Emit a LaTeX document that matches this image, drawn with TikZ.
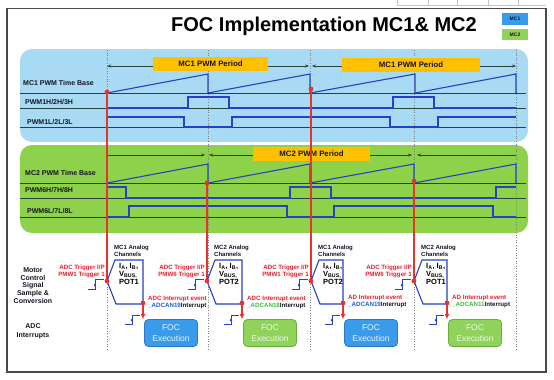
\documentclass[tikz,border=0pt]{standalone}
\usepackage{fontspec}
\setmainfont{Liberation Sans}
\usetikzlibrary{arrows.meta}
\definecolor{panelblue}{HTML}{A8DAF3}
\definecolor{panelgreen}{HTML}{8ED14B}
\definecolor{gold}{HTML}{FFC000}
\definecolor{sigblue}{HTML}{2542C4}
\definecolor{basec}{HTML}{27433A}
\definecolor{trigred}{HTML}{E8322C}
\definecolor{lblred}{HTML}{E8202E}
\definecolor{focblue}{HTML}{3A9BEA}
\definecolor{focblueb}{HTML}{2A78C8}
\definecolor{focgreen}{HTML}{8FD35A}
\definecolor{focgreenb}{HTML}{6AAE3E}
\definecolor{codeblue}{HTML}{1E5FE0}
\definecolor{codegreen}{HTML}{3DBE3D}
\definecolor{framec}{HTML}{4A4A4A}
\definecolor{gridc}{HTML}{C4C4C4}
\definecolor{txt}{HTML}{151525}
\newcommand\adcgrp[9]{%
 \begin{scope}[shift={(#1,0)}]
  \node[chlbl] (ch#1) at (7,245) {#3 Analog\\Channels};
  \node[trglbl] (tl#1) at (-2,271.5) {ADC Trigger I/P\\#4};
  \draw[stepsym] (-19,289) -- (-12,289) -- (-12,279) -- (-3,279);
  \draw[steparr] (-12,289) -- (-12,283);
  \draw[hold] (0,281) -- (8,260) -- (#2,260) -- (#2,304) -- (9,304) -- cycle;
  \node[holdtxt] (h#1) at (12,263) {I\textsubscript{A}, I\textsubscript{B},\\V\textsubscript{BUS,}\\#5};
  \node[#9] (f#1) at (#2+28,333) {FOC\\Execution};
  \coordinate (ev#1) at (#2,303);
  \draw[redarrow] (ev#1) -- (f#1.north -| ev#1);
  \fill[trigred] (ev#1) circle (2.4);
  \fill[trigred] (0,281) circle (2.4);
  \node[evlbl] (e#1) at (#2+5,302) {#6\\\textcolor{#8}{\_ADCAN#7}\textcolor{txt}{Interrupt}};
  \draw[stepsym] (#2-18,324) -- (#2-11,324) -- (#2-11,315) -- (#2-3,315);
  \draw[steparr] (#2-11,324) -- (#2-11,318);
 \end{scope}}
\begin{document}
\begin{tikzpicture}[x=1pt,y=-1pt,
  sig/.style={sigblue, line width=1.1pt, line join=miter},
  baseln/.style={basec, line width=0.7pt},
  dots/.style={gray, dotted, line width=0.6pt},
  redln/.style={trigred, line width=1.4pt},
  dim/.style={basec, line width=0.7pt, -{Stealth[length=4pt,width=3pt]}},
  periodbox/.style={fill=gold, inner sep=0, minimum height=14pt, font=\bfseries\fontsize{7.8}{9}\selectfont, text=txt},
  plbl/.style={anchor=west, inner sep=0, font=\bfseries\fontsize{7}{8}\selectfont, text=txt},
  sidelbl/.style={align=center, inner sep=0, font=\bfseries\fontsize{7}{7.8}\selectfont, text=txt},
  chlbl/.style={anchor=north west, align=left, inner sep=0, font=\bfseries\fontsize{6}{7}\selectfont, text=txt},
  trglbl/.style={anchor=east, align=right, inner sep=0, font=\bfseries\fontsize{6.2}{6.8}\selectfont, text=lblred},
  evlbl/.style={anchor=west, align=left, inner sep=0, font=\bfseries\fontsize{6.2}{7}\selectfont, text=lblred},
  holdtxt/.style={anchor=north west, align=left, inner sep=0, font=\bfseries\fontsize{7.5}{8.2}\selectfont, text=black},
  hold/.style={sigblue, line width=1.1pt, line join=miter},
  stepsym/.style={sigblue, line width=0.9pt},
  steparr/.style={sigblue, line width=0.9pt, -{Latex[length=3pt,width=3pt]}},
  redarrow/.style={trigred, line width=2pt, -{Latex[length=5pt,width=5pt]}},
  focmc1/.style={fill=focblue, draw=focblueb, line width=0.8pt, rounded corners=4pt, minimum width=53pt, minimum height=27pt, align=center, inner sep=0, font=\fontsize{8.5}{10.5}\selectfont, text=white!88!focblue},
  focmc2/.style={fill=focgreen, draw=focgreenb, line width=0.8pt, rounded corners=4pt, minimum width=53pt, minimum height=27pt, align=center, inner sep=0, font=\fontsize{8.5}{10.5}\selectfont, text=white!85!focgreen},
  legendbox/.style={minimum width=26pt, minimum height=11.5pt, inner sep=0, font=\bfseries\fontsize{5}{6}\selectfont, text=txt}
]
\useasboundingbox (0,0) rectangle (554,380);
\fill[white] (0,0) rectangle (554,380);
% faint grid top right
\draw[gridc, line width=0.5pt] (397,5) -- (546,5);
\foreach \gx in {397,428,457,488,518} \draw[gridc, line width=0.5pt] (\gx,0) -- (\gx,5);
% frame
\draw[framec, line width=1.5pt] (7,8.5) rectangle (546,372);
% title
\node[inner sep=0, font=\bfseries\fontsize{20}{24}\selectfont, text=black] (title) at (324,26.5) {FOC Implementation MC1\& MC2};
\node[legendbox, fill=focblue] (lg1) at (515,19) {MC1};
\node[legendbox, fill=focgreen] (lg2) at (515,34.5) {MC2};
% panels
\fill[panelblue, rounded corners=12pt] (20,49) rectangle (528,142);
\fill[panelgreen, rounded corners=12pt] (20,145) rectangle (528,233);
% dotted time lines
\foreach \dx in {107,208,310,414,516} \draw[dots] (\dx,50) -- (\dx,350);
% baselines
\foreach \by in {93,108,127,183,198,217} \draw[baseln] (20,\by) -- (526,\by);
% MC1 signals
\draw[sig] (107,93) -- (208,74) -- (208,93) -- (310,74) -- (310,93) -- (415,74) -- (415,93) -- (516,74) -- (516,93);
\draw[sig] (107,108) -- (188,108) -- (188,97) -- (229,97) -- (229,108) -- (393,108) -- (393,97) -- (434,97) -- (434,108) -- (516,108);
\draw[sig] (107,117) -- (184,117) -- (184,127) -- (232,127) -- (232,117) -- (390,117) -- (390,127) -- (438,127) -- (438,117) -- (516,117);
% MC2 signals
\draw[sig] (107,165) -- (107,183) -- (208,164) -- (208,183) -- (310,164) -- (310,183) -- (414,164) -- (414,183) -- (516,164) -- (516,183);
\draw[sig] (107,187) -- (126,187) -- (126,198) -- (290,198) -- (290,187) -- (331,187) -- (331,198) -- (496,198) -- (496,187) -- (516,187);
\draw[sig] (107,217) -- (129,217) -- (129,206) -- (287,206) -- (287,217) -- (334,217) -- (334,206) -- (493,206) -- (493,217) -- (516,217);
% labels
\node[plbl] (l1) at (23,83) {MC1 PWM Time Base};
\node[plbl] (l2) at (25,102) {PWM1H/2H/3H};
\node[plbl] (l3) at (27,122) {PWM1L/2L/3L};
\node[plbl] (l4) at (25,173) {MC2 PWM Time Base};
\node[plbl] (l5) at (25,190) {PWM6H/7H/8H};
\node[plbl] (l6) at (27,211) {PWM6L/7L/8L};
% MC1 period arrows
\node[periodbox, minimum width=115pt] (p1) at (210.5,64) {MC1 PWM Period};
\node[periodbox, minimum width=138pt] (p2) at (411,64.5) {MC1 PWM Period};
\coordinate (a0) at (107,66); \coordinate (a1) at (309,66);
\coordinate (a2) at (312,66); \coordinate (a3) at (516,66);
\draw[dim] (p1.west |- a0) -- (a0);
\draw[dim] (p1.east |- a1) -- (a1);
\draw[dim] (p2.west |- a2) -- (a2);
\draw[dim] (p2.east |- a3) -- (a3);
% MC2 period arrows
\node[periodbox, minimum width=117pt] (p3) at (311.5,153.5) {MC2 PWM Period};
\coordinate (b0) at (107,155); \coordinate (b1) at (205,155);
\coordinate (b2) at (209,155); \coordinate (b3) at (412,155);
\coordinate (b4) at (417,155); \coordinate (b5) at (516,155);
\draw[dim] (b0) -- (b1);
\draw[dim] (p3.west |- b2) -- (b2);
\draw[dim] (p3.east |- b3) -- (b3);
\draw[dim] (b5) -- (b4);
% red trigger lines
\draw[redln] (107,92) -- (107,281);
\draw[redln] (311,89) -- (311,280);
\draw[redln] (207,183) -- (207,283);
\draw[redln] (414,181) -- (414,281);
\fill[trigred] (107,92) circle (2.4);
\fill[trigred] (311,89) circle (2.4);
\fill[trigred] (207,183) circle (2.4);
\fill[trigred] (414,181) circle (2.4);
% side labels
\node[sidelbl] (s1) at (33,285.5) {Motor\\Control\\Signal\\Sample \&\\Conversion};
\node[sidelbl, font=\bfseries\fontsize{7}{9}\selectfont] (s2) at (33,331.5) {ADC\\Interrupts};
% ADC groups
\adcgrp{107}{36}{MC1}{PMW1 Trigger 1}{POT1}{ADC Interrupt event}{19}{codeblue}{focmc1}
\adcgrp{207}{35}{MC2}{PMW6 Trigger 1}{POT2}{ADC Interrupt event}{18}{codegreen}{focmc2}
\adcgrp{311}{32}{MC1}{PMW1 Trigger 1}{POT2}{AD Interrupt event}{19}{codeblue}{focmc1}
\adcgrp{414}{33}{MC2}{PMW6 Trigger 1}{POT1}{AD Interrupt event}{11}{codegreen}{focmc2}
\end{tikzpicture}
\end{document}
